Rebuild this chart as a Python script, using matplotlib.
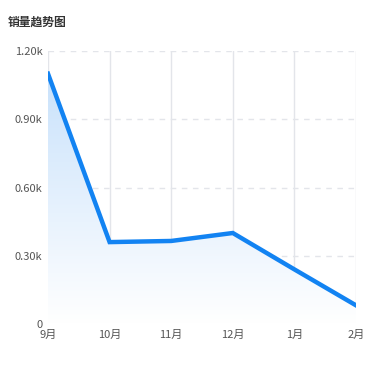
import numpy as np
import matplotlib.pyplot as plt
from matplotlib.colors import LinearSegmentedColormap

plt.rcParams['font.family'] = ['Noto Sans CJK SC', 'DejaVu Sans']

months = ['9月', '10月', '11月', '12月', '1月', '2月']
sales = [1100, 360, 365, 400, 240, 82]
y_ticks = [0, 300, 600, 900, 1200]
y_labels = ['0', '0.30k', '0.60k', '0.90k', '1.20k']

line_color = '#1283f2'
grid_color = '#e3e5ea'

fig = plt.figure(figsize=(3.79, 3.71), dpi=100)
ax = fig.add_axes([48 / 379, 1 - 324 / 371, 308 / 379, 273 / 371])

x = np.arange(len(months))
ax.set_xlim(0, len(months) - 1)
ax.set_ylim(0, 1200)

# gradient fill under the line
poly = ax.fill_between(x, sales, 0, color='none', lw=0)
cmap = LinearSegmentedColormap.from_list('fade', ['#ffffff', '#c4dffb'])
grad = np.linspace(0, 1, 256).reshape(-1, 1)
img = ax.imshow(grad, cmap=cmap, aspect='auto', origin='lower',
                extent=[0, len(months) - 1, 0, 1200], zorder=1)
img.set_clip_path(poly.get_paths()[0], transform=ax.transData)

ax.plot(x, sales, color=line_color, lw=3.2, zorder=3, solid_joinstyle='miter')

# grid
for xi in x:
    ax.axvline(xi, color=grid_color, lw=1, zorder=0)
for yv in y_ticks:
    ax.axhline(yv, color=grid_color, lw=1, ls=(0, (4, 4)), zorder=0)

for s in ax.spines.values():
    s.set_visible(False)

ax.set_xticks(x)
ax.set_xticklabels(months)
ax.set_yticks(y_ticks)
ax.set_yticklabels(y_labels)
ax.tick_params(length=0, labelsize=8, colors='#555555', pad=4)

fig.text(8 / 379, 1 - 22 / 371, '销量趋势图', fontsize=8.5, fontweight='bold',
         color='#333333', va='center', ha='left')

fig.savefig('out.png', dpi=100)
